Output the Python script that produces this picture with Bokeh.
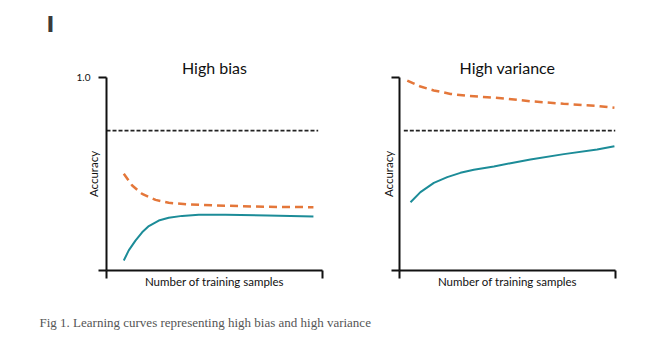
from bokeh.plotting import figure
from bokeh.layouts import column, row
from bokeh.models import Range1d, FixedTicker, Label
from bokeh.embed import file_html
from bokeh.resources import INLINE

# ---------------- data ----------------
panel_titles = ["High bias", "High variance"]
x_axis_title = "Number of training samples"
y_axis_title = "Accuracy"
caption_text = "Fig 1. Learning curves representing high bias and high variance"
corner_mark = "I"

# High bias panel (x: training samples 0-100, y: accuracy 0-1)
bias_train_x = [8.0, 11.9, 16.5, 22.7, 28.8, 38.1, 50.5, 74.5, 95.8]
bias_train_y = [0.501, 0.440, 0.397, 0.366, 0.351, 0.342, 0.337, 0.330, 0.328]
bias_val_x = [8.0, 10.3, 13.4, 16.5, 19.6, 24.2, 28.8, 35.0, 42.7, 55.1, 74.5, 95.8]
bias_val_y = [0.052, 0.104, 0.155, 0.198, 0.230, 0.259, 0.273, 0.283, 0.289, 0.289, 0.285, 0.280]
bias_target_x = [0, 98]

# High variance panel
var_train_x = [3.6, 9.7, 15.9, 23.6, 31.3, 40.6, 49.9, 60.6, 75.9, 91.5, 99.5]
var_train_y = [0.984, 0.953, 0.933, 0.915, 0.905, 0.898, 0.890, 0.877, 0.864, 0.853, 0.843]
var_val_x = [5.1, 9.7, 15.9, 22.1, 28.2, 34.4, 43.7, 51.4, 60.6, 76.1, 91.5, 99.5]
var_val_y = [0.354, 0.406, 0.454, 0.484, 0.506, 0.522, 0.539, 0.556, 0.575, 0.603, 0.627, 0.644]
var_target_x = [2, 100]

target_accuracy = 0.725
y_tick_labels = {0: "", 1: "1.0"}

ORANGE = "#E4773A"
TEAL = "#1C8C98"
SANS = "Lato"


def blank(width, height):
    f = figure(width=width, height=height, x_range=Range1d(0, width), y_range=Range1d(0, height),
               output_backend="svg", toolbar_location=None,
               x_axis_location=None, y_axis_location=None,
               min_border=0, min_border_left=0, min_border_right=0,
               min_border_top=0, min_border_bottom=0)
    f.grid.visible = False
    f.outline_line_color = None
    return f


def make_panel(title, width, left, right, y_labels):
    p = figure(width=width, height=260, x_range=Range1d(0, 100), y_range=Range1d(0, 1),
               output_backend="svg", toolbar_location=None, title=title,
               min_border_left=left, min_border_right=right,
               min_border_top=37, min_border_bottom=30)
    p.grid.visible = False
    p.outline_line_color = None

    p.title.text_font = SANS
    p.title.text_font_size = "16px"
    p.title.text_font_style = "normal"
    p.title.text_color = "#111111"
    p.title.align = "center"
    p.title.standoff = 2

    for ax in (p.xaxis, p.yaxis):
        ax.axis_line_width = 2
        ax.axis_line_color = "#111111"
        ax.major_tick_line_width = 2
        ax.major_tick_line_color = "#111111"
        ax.major_tick_in = 0
        ax.major_tick_out = 8
        ax.minor_tick_line_color = None
        ax.axis_label_text_font = SANS
        ax.axis_label_text_font_size = "11.5px"
        ax.axis_label_text_font_style = "normal"
        ax.axis_label_text_color = "#111111"
        ax.major_label_text_font = SANS
        ax.major_label_text_font_size = "10px"
        ax.major_label_text_color = "#111111"

    p.xaxis.ticker = FixedTicker(ticks=[0, 100])
    p.xaxis.major_label_overrides = {0: "", 100: ""}
    p.xaxis.major_label_standoff = 0
    p.xaxis.axis_label = x_axis_title
    p.xaxis.axis_label_standoff = -4

    p.yaxis.ticker = FixedTicker(ticks=[0, 1])
    p.yaxis.major_label_overrides = y_labels
    p.yaxis.major_label_standoff = 8
    p.yaxis.axis_label = y_axis_title
    has_lbl = any(v for v in y_labels.values())
    p.yaxis.axis_label_standoff = -26 if has_lbl else -3
    return p


top = blank(665, 40)
top.add_layout(Label(x=50, y=16, x_units="screen", y_units="screen", text=corner_mark,
                     text_font="DejaVu Sans", text_font_style="bold", text_font_size="21px",
                     text_color="#3a3a3a", text_align="center", text_baseline="middle"))

p1 = make_panel(panel_titles[0], 332, 106, 10, y_tick_labels)
p1.line(bias_target_x, [target_accuracy] * len(bias_target_x), line_color="#222222",
        line_width=1.6, line_dash="4 2")
p1.line(bias_train_x, bias_train_y, line_color=ORANGE, line_width=2.5, line_dash="8 5")
p1.line(bias_val_x, bias_val_y, line_color=TEAL, line_width=2)

p2 = make_panel(panel_titles[1], 333, 67, 50, {0: "", 1: ""})
p2.line(var_target_x, [target_accuracy] * len(var_target_x), line_color="#222222",
        line_width=1.6, line_dash="4 2")
p2.line(var_train_x, var_train_y, line_color=ORANGE, line_width=2.5, line_dash="8 5")
p2.line(var_val_x, var_val_y, line_color=TEAL, line_width=2)

cap = blank(665, 45)
cap.add_layout(Label(x=39, y=23, x_units="screen", y_units="screen", text=caption_text,
                     text_font="Liberation Serif", text_font_size="13px",
                     text_color="#555555", text_align="left", text_baseline="middle"))

layout = column(top, row(p1, p2, spacing=0), cap, spacing=0)

with open("out.html", "w") as f:
    f.write(file_html(layout, INLINE))
